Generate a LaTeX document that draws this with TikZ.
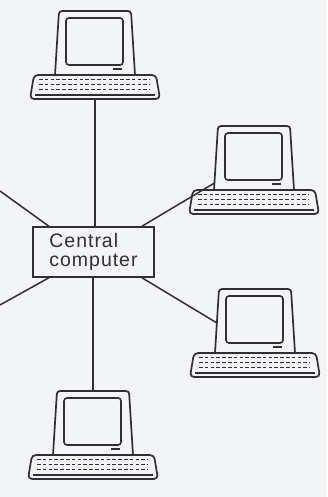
\documentclass[tikz,border=0pt]{standalone}
\usepackage{fontspec}
\setsansfont{Liberation Sans}
\definecolor{paper}{RGB}{243,244,246}
\definecolor{ink}{RGB}{48,48,50}

\begin{document}
\begin{tikzpicture}[x=1pt,y=-1pt,
            wire/.style={
              draw=ink,
              line width=1.5pt
            },
            hub/.style={
              draw=ink,
              line width=1.5pt,
              minimum width=121pt,
              minimum height=50pt,
              inner sep=0pt,
              align=left,
              text=ink,
              font=\sffamily\fontsize{19.5}{18.5}\selectfont\addfontfeatures{LetterSpace=5}
            },
            terminal/.pic={
              % monitor, screen and its badge
              \draw[ink,line width=1.7pt,rounded corners=3pt]
                (-40,0) -- (-36,-64) -- (36,-64) -- (40,0);
              \draw[ink,line width=1.6pt,rounded corners=3pt] (-29,-57) rectangle (28,-10);
              \draw[ink,line width=2.2pt] (18,-6) -- (27,-6);
              % keyboard
              \draw[ink,line width=1.7pt,rounded corners=4pt]
                (-61,0) -- (61,0) -- (65,24) -- (-65,24) -- cycle;
              \foreach \r in {4.5,9.5,14.5}
                \draw[ink,line width=1.4pt,dash pattern=on 3.6pt off 2.2pt] (-56,\r) -- (55,\r);
              \draw[ink,line width=1.2pt] (-60,20) -- (60,20);
              \coordinate (-up) at (0,-64);
              \coordinate (-down) at (0,24);
              \coordinate (-side) at (-39.5,-7);
              \coordinate (-flank) at (-38,-30);
            }
            ]
            \path[use as bounding box,fill=paper] (0,0) rectangle (327,497);

            \node[hub] (central) at (93.5,252) {Central\\computer};

            \pic (top) at (95,75) {terminal};
            \pic (ne) at (254,190) {terminal};
            \pic (se) at (255,353) {terminal};
            \pic (bot) at (93,455) {terminal};
            \coordinate (w1) at (0,191);
            \coordinate (w2) at (0,305);

            \draw[wire] (top-down) -- (top-down |- central.north);
            \draw[wire] (bot-up |- central.south) -- (bot-up);
            \draw[wire] (central.28) -- (ne-side);
            \draw[wire] (central.-28) -- (se-flank);
            \draw[wire] (central.150) -- (w1);
            \draw[wire] (central.-150) -- (w2);
        \end{tikzpicture}
\end{document}
